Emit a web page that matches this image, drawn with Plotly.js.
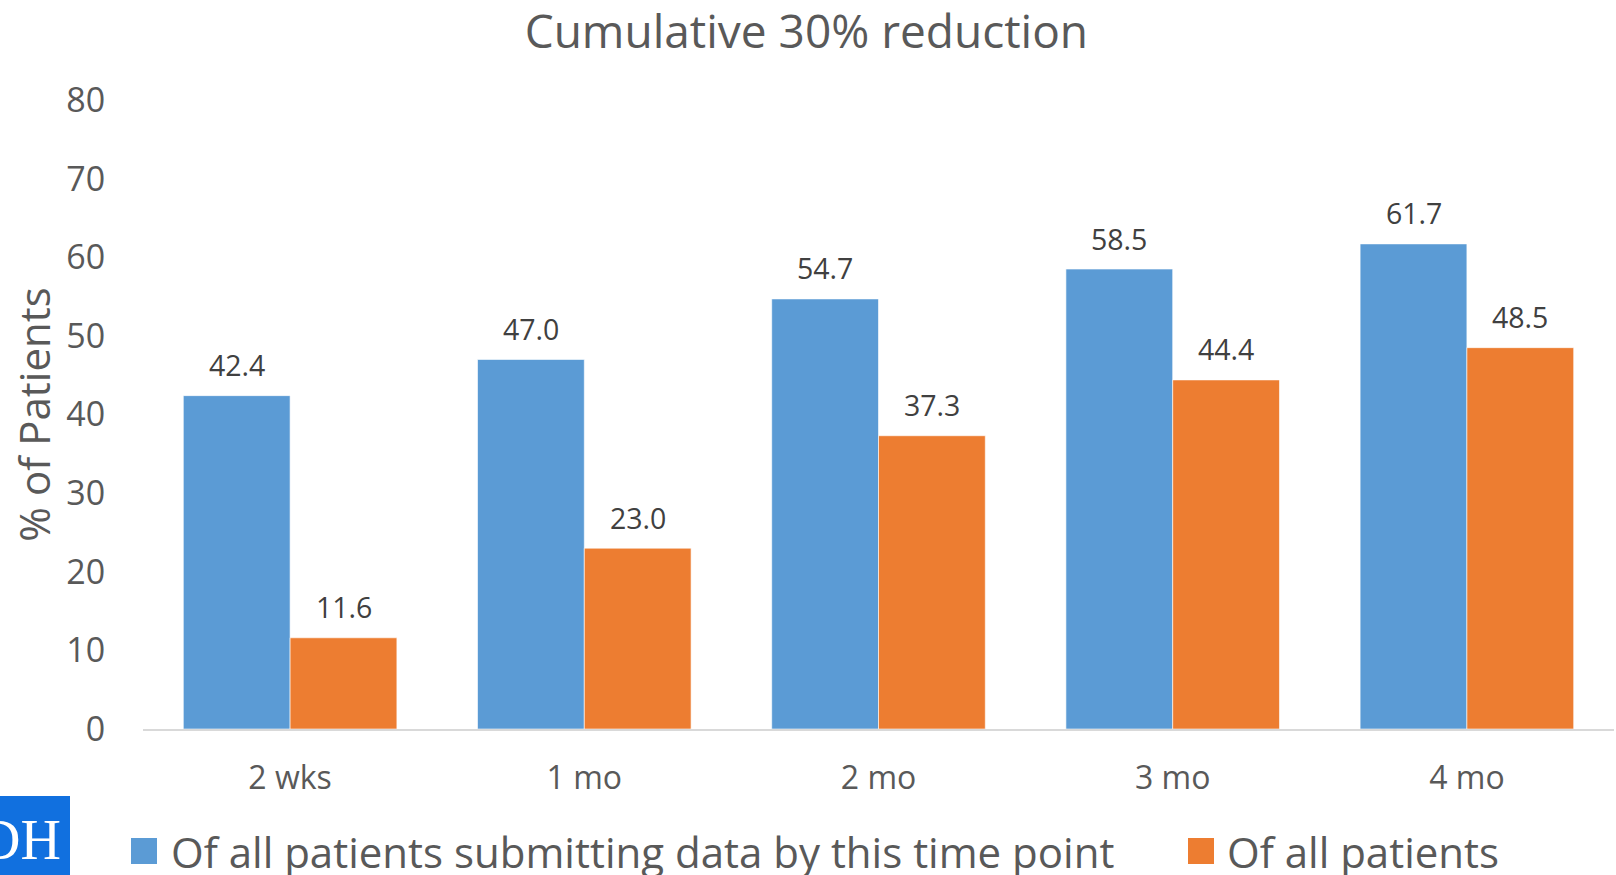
<!DOCTYPE html>
<html>
<head>
<meta charset="utf-8">
<script src="https://cdn.plot.ly/plotly-3.0.1.min.js"></script>
<style>html,body{margin:0;padding:0;background:#fff;overflow:hidden}</style>
</head>
<body>
<div id="chart" style="width:1616px;height:875px"></div>
<script>
const categories = ["2 wks", "1 mo", "2 mo", "3 mo", "4 mo"];
const seriesNames = ["Of all patients submitting data by this time point", "Of all patients"];
const seriesColors = ["#5B9BD5", "#ED7D31"];
const submittingValues = [42.4, 47.0, 54.7, 58.5, 61.7];
const allPatientsValues = [11.6, 23.0, 37.3, 44.4, 48.5];
const yTickValues = [0, 10, 20, 30, 40, 50, 60, 70, 80];
const titleText = "Cumulative 30% reduction";
const yTitleText = "% of Patients";
const logoText = "DH";

const fontFam = "'Open Sans', 'Noto Sans', sans-serif";
const grey = "#595959";

// plot-area geometry (pixels)
const W = 1616, H = 875;
const M = {l: 143, r: 2, t: 100, b: 146};
const PW = W - M.l - M.r, PH = H - M.t - M.b;
const px2x = px => (px - M.l) / PW;
const py2y = py => (H - M.b - py) / PH;

const allSeries = [submittingValues, allPatientsValues];

const data = allSeries.map((vals, i) => ({
  type: "bar",
  x: categories,
  y: vals,
  name: seriesNames[i],
  marker: {color: seriesColors[i], line: {color: "rgba(255,255,255,0.6)", width: 1}},
  hoverinfo: "none",
  showlegend: false
}));

// data labels above bars
const labelAnns = [];
allSeries.forEach((vals, i) => {
  vals.forEach((v, j) => {
    labelAnns.push({
      x: categories[j], y: v, xref: "x", yref: "y",
      text: v.toFixed(1), showarrow: false,
      xanchor: "center", yanchor: "middle",
      xshift: i === 0 ? -53.4 : 53.4, yshift: 30.5,
      font: {family: fontFam, size: 28.5, color: "#404040"}
    });
  });
});

// legend (drawn manually to match large square symbols)
const legendSym = [131, 1188];
const legendText = [169, 1225];
const legendY = 851;
const legendShapes = seriesNames.map((n, i) => ({
  type: "rect", xref: "paper", yref: "paper",
  x0: px2x(legendSym[i]), x1: px2x(legendSym[i] + 26),
  y0: py2y(legendY + 13), y1: py2y(legendY - 13),
  fillcolor: seriesColors[i], line: {width: 0}
}));
const legendAnns = seriesNames.map((n, i) => ({
  text: n, xref: "paper", yref: "paper",
  x: px2x(legendText[i]), xanchor: "left",
  y: py2y(legendY), yanchor: "middle",
  showarrow: false,
  font: {family: fontFam, size: 42, color: grey}
}));

const layout = {
  width: W, height: H,
  margin: {l: M.l, r: M.r, t: M.t, b: M.b, pad: 0},
  paper_bgcolor: "#fff", plot_bgcolor: "#fff",
  barmode: "group",
  bargap: 0.274,
  bargroupgap: 0,
  showlegend: false,
  font: {family: fontFam, color: grey},
  title: {
    text: titleText,
    font: {family: fontFam, size: 46, color: grey},
    xref: "container", x: 0.499, xanchor: "center",
    yref: "container", y: 0.964, yanchor: "middle"
  },
  xaxis: {
    type: "category",
    showline: true, linecolor: "#D9D9D9", linewidth: 2,
    showgrid: false, zeroline: false,
    ticks: "outside", ticklen: 20, tickcolor: "rgba(0,0,0,0)",
    tickfont: {family: fontFam, size: 32, color: grey}
  },
  yaxis: {
    range: [0, 80],
    tickvals: yTickValues,
    showgrid: false, zeroline: false, showline: false,
    ticks: "outside", ticklen: 30, tickcolor: "rgba(0,0,0,0)",
    tickfont: {family: fontFam, size: 34, color: grey},
    title: {text: yTitleText, font: {family: fontFam, size: 42, color: grey}, standoff: 2}
  },
  shapes: [{
    type: "rect", xref: "paper", yref: "paper",
    x0: px2x(0), x1: px2x(70), y0: py2y(H), y1: py2y(796),
    fillcolor: "#1170DF", line: {width: 0}
  }].concat(legendShapes),
  annotations: [{
    text: logoText, xref: "paper", yref: "paper",
    x: px2x(-22), xanchor: "left",
    y: py2y(840), yanchor: "middle",
    showarrow: false,
    font: {family: "'Liberation Serif', 'DejaVu Serif', serif", size: 56, color: "#fff"}
  }].concat(labelAnns, legendAnns)
};

Plotly.newPlot("chart", data, layout, {displayModeBar: false, staticPlot: true});
</script>
</body>
</html>
